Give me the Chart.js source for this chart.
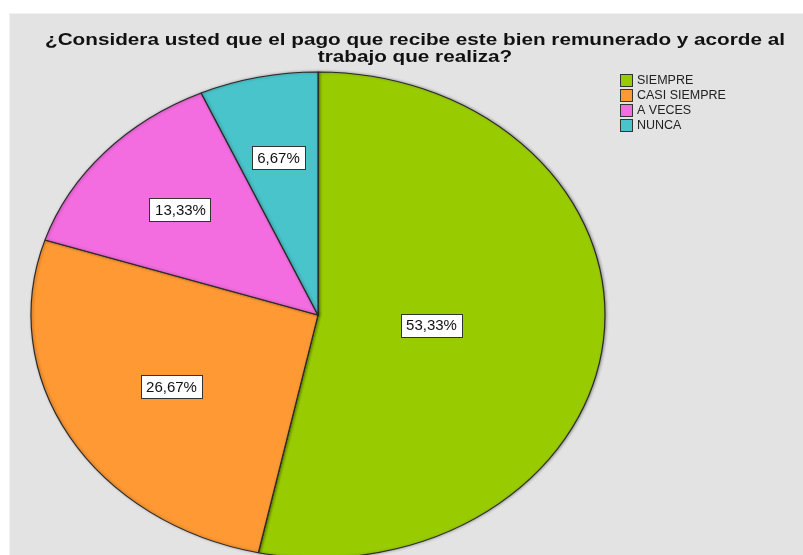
<!DOCTYPE html>
<html>
<head>
<meta charset="utf-8">
<script src="https://cdn.jsdelivr.net/npm/chart.js@4/dist/chart.umd.min.js"></script>
<style>
  html, body { margin: 0; padding: 0; background: #fff; }
  #chart { position: absolute; left: 0; top: 0; }
</style>
</head>
<body>
<canvas id="chart" width="803" height="555"></canvas>
<script>
// data
const titleLines = ['¿Considera usted que el pago que recibe este bien remunerado y acorde al', 'trabajo que realiza?'];
const categories = ['SIEMPRE', 'CASI SIEMPRE', 'A VECES', 'NUNCA'];
const percents = [53.33, 26.67, 13.33, 6.67];
const sliceColors = ['#99cc00', '#ff9933', '#f36ce0', '#4ac4cb'];

// pie is drawn as a circle of radius ry, then stretched to an ellipse
const ry = 243;
const rx = 287;
const stretch = rx / ry;

const fmt = v => v.toFixed(2).replace('.', ',') + '%';

const panel = {
  id: 'panel',
  beforeDraw(chart) {
    const c = chart.ctx;
    c.save();
    c.fillStyle = '#e3e3e3';
    c.fillRect(9, 13, chart.width - 9, chart.height - 13);
    c.strokeStyle = '#f2f2f2';
    c.lineWidth = 1;
    c.strokeRect(9.5, 13.5, chart.width, chart.height);
    c.restore();
  }
};

// title is stretched horizontally like the rest of the picture
const titleText = {
  id: 'titleText',
  afterDraw(chart) {
    const c = chart.ctx;
    c.save();
    c.font = 'bold 17px "Liberation Sans", Arial, sans-serif';
    c.fillStyle = '#111111';
    c.textAlign = 'center';
    c.textBaseline = 'middle';
    const sx = 740 / c.measureText(titleLines[0]).width;
    c.translate(415, 0);
    c.scale(sx, 1);
    titleLines.forEach((line, i) => {
      c.fillText(line, 0, 40 + i * 17.5);
    });
    c.restore();
  }
};

const ellipse = {
  id: 'ellipse',
  beforeDatasetsDraw(chart) {
    const c = chart.ctx;
    const cx = (chart.chartArea.left + chart.chartArea.right) / 2;
    c.save();
    c.shadowColor = 'rgba(0,0,0,0.35)';
    c.shadowBlur = 3;
    c.shadowOffsetX = 1;
    c.translate(cx, 0);
    c.scale(stretch, 1);
    c.translate(-cx, 0);
  },
  afterDatasetsDraw(chart) {
    chart.ctx.restore();
    const c = chart.ctx;
    const arcs = chart.getDatasetMeta(0).data;
    c.save();
    c.font = '15px "Liberation Sans", Arial, sans-serif';
    c.textAlign = 'center';
    c.textBaseline = 'middle';
    arcs.forEach((a, i) => {
      // centroid of the sector, then stretched
      const theta = a.endAngle - a.startAngle;
      const mid = (a.startAngle + a.endAngle) / 2;
      const d = 4 * a.outerRadius * Math.sin(theta / 2) / (3 * theta);
      const x = a.x + Math.cos(mid) * d * stretch;
      const y = a.y + Math.sin(mid) * d;
      const label = fmt(percents[i]);
      const w = c.measureText(label).width + 10;
      const h = 23;
      c.fillStyle = '#ffffff';
      c.fillRect(Math.round(x - w / 2) + 0.5, Math.round(y - h / 2) + 0.5, Math.round(w), h);
      c.strokeStyle = '#333333';
      c.lineWidth = 1;
      c.strokeRect(Math.round(x - w / 2) + 0.5, Math.round(y - h / 2) + 0.5, Math.round(w), h);
      c.fillStyle = '#111111';
      c.fillText(label, Math.round(x) + 0.5, Math.round(y) + 1);
    });
    c.restore();
  }
};

const legendBox = {
  id: 'legendBox',
  afterDraw(chart) {
    const c = chart.ctx;
    c.save();
    c.font = '12.5px "Liberation Sans", Arial, sans-serif';
    c.textBaseline = 'middle';
    c.textAlign = 'left';
    categories.forEach((name, i) => {
      const y = 74 + i * 15;
      c.fillStyle = sliceColors[i];
      c.fillRect(620.5, y + 0.5, 12, 12);
      c.strokeStyle = '#333333';
      c.lineWidth = 1;
      c.strokeRect(620.5, y + 0.5, 12, 12);
      c.fillStyle = '#222222';
      c.fillText(name, 637, y + 7);
    });
    c.restore();
  }
};

new Chart(document.getElementById('chart'), {
  type: 'pie',
  data: {
    labels: categories,
    datasets: [{
      data: percents,
      backgroundColor: sliceColors,
      borderColor: '#2a2a2a',
      borderWidth: 1,
      clip: false
    }]
  },
  options: {
    responsive: false,
    animation: false,
    radius: ry,
    layout: { padding: { left: 27, right: 194, top: 75, bottom: 0 } },
    plugins: {
      legend: { display: false },
      tooltip: { enabled: false },
      title: { display: false }
    }
  },
  plugins: [panel, ellipse, titleText, legendBox]
});
</script>
</body>
</html>
